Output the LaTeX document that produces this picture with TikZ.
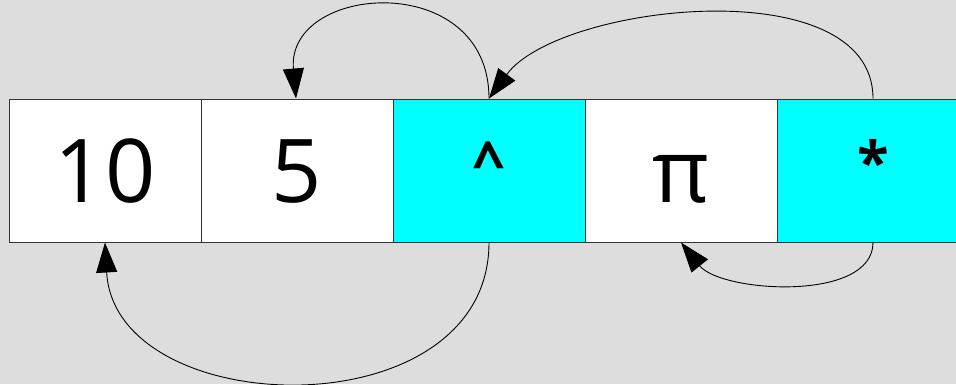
\documentclass[tikz,border=0pt]{standalone}
\usepackage{fontspec}
\setmainfont{Open Sans}
\usetikzlibrary{arrows.meta}

\definecolor{bggray}{HTML}{DDDDDD}
\definecolor{cellcyan}{HTML}{00FFFF}
\definecolor{celledge}{HTML}{333333}

\tikzset{
  cell/.style={draw=celledge, line width=1pt, fill=white, minimum width=192pt,
    minimum height=143pt, inner sep=0pt, text height=63pt, text depth=0pt,
    font=\fontsize{88}{92}\selectfont},
  opcell/.style={cell, fill=cellcyan, text height=25pt,
    font=\bfseries\fontsize{58}{62}\selectfont},
  jump/.style={-{Triangle[length=30pt,width=21pt]}, line width=0.9pt}
}

\begin{document}
\begin{tikzpicture}[x=1pt, y=-1pt]
\def\xl{9};
\def\dx{192};
\def\ym{170.5};

\fill[bggray] (0,0) rectangle (956,384);
\useasboundingbox (0,0) rectangle (956,384);

% cells
\node[cell] (ten) at (\xl + 0.5*\dx, \ym) {10};
\node[cell] (five) at (\xl + 1.5*\dx, \ym) {5};
\node[opcell] (hat) at (\xl + 2.5*\dx, \ym) {\^{}};
\node[cell] (pie) at (\xl + 3.5*\dx, \ym) {π};
\node[opcell] (star) at (\xl + 4.5*\dx, \ym) {*};

% arrows above
\draw[jump] (hat.north) .. controls ++(0,-130) and ++(-10,-115) .. ([xshift=-1pt]five.north);
\draw[jump] (star.north) .. controls ++(0,-130) and ++(70,-95) .. (hat.north);

% arrows below
\draw[jump] (hat.south) .. controls ++(0,190) and ++(10,180) .. (ten.south);
\draw[jump] (star.south) .. controls ++(0,60) and ++(40,50) .. (pie.south);

\end{tikzpicture}
\end{document}
